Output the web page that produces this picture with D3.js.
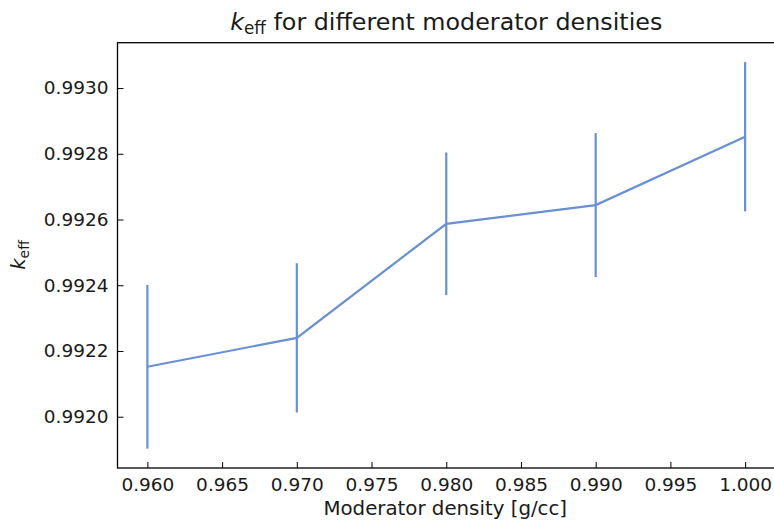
<!DOCTYPE html>
<html>
<head>
<meta charset="utf-8">
<script src="https://cdn.jsdelivr.net/npm/d3@7"></script>
<style>
  html, body { margin: 0; padding: 0; background: #fff; }
  svg { display: block; font-family: "DejaVu Sans", sans-serif; }
</style>
</head>
<body>
<svg id="chart" width="774" height="521"></svg>
<script>
// Moderator densities [g/cc]
const densities = [0.960, 0.970, 0.980, 0.990, 1.000];
// k_eff mean values and one-sigma uncertainties
const keff = [0.992152, 0.992240, 0.992587, 0.992644, 0.992852];
const keffErr = [0.000249, 0.000227, 0.000217, 0.000219, 0.000227];
// Axis ticks
const xTicks = [0.960, 0.965, 0.970, 0.975, 0.980, 0.985, 0.990, 0.995, 1.000];
const yTicks = [0.9920, 0.9922, 0.9924, 0.9926, 0.9928, 0.9930];

const lineColor = "#6890d2";
const textColor = "#1a1a1a";

const svg = d3.select("#chart");
const plotLeft = 117.5, plotRight = 775, plotTop = 42.7, plotBottom = 468;

const x = d3.scaleLinear().domain([0.958, 1.002]).range([plotLeft, plotRight]);
const y = d3.scaleLinear().domain([0.991844, 0.993138]).range([plotBottom, plotTop]);

const data = densities.map((d, i) => ({ x: d, y: keff[i], e: keffErr[i] }));

const g = svg.append("g");

const xAxis = d3.axisBottom(x).tickValues(xTicks).tickFormat(d3.format(".3f"))
  .tickSizeInner(-6).tickSizeOuter(0).tickPadding(10);
const yAxis = d3.axisLeft(y).tickValues(yTicks).tickFormat(d3.format(".4f"))
  .tickSizeInner(-6).tickSizeOuter(0).tickPadding(9);

const gx = g.append("g").attr("transform", `translate(0,${plotBottom})`).call(xAxis);
const gy = g.append("g").attr("transform", `translate(${plotLeft},0)`).call(yAxis);

[gx, gy].forEach(ax => {
  ax.select(".domain").remove();
  ax.selectAll(".tick line").attr("stroke", "#000").attr("stroke-width", 1);
  ax.selectAll(".tick text").attr("fill", textColor)
    .style("font-size", "18.5px").style("font-family", "DejaVu Sans");
});

// Error bars
g.append("g").selectAll("line").data(data).join("line")
  .attr("x1", d => x(d.x)).attr("x2", d => x(d.x))
  .attr("y1", d => y(d.y - d.e)).attr("y2", d => y(d.y + d.e))
  .attr("stroke", lineColor).attr("stroke-width", 2.2);

// Mean line
g.append("path").datum(data)
  .attr("fill", "none").attr("stroke", lineColor).attr("stroke-width", 2.2)
  .attr("d", d3.line().x(d => x(d.x)).y(d => y(d.y)));

// Spines
g.append("rect")
  .attr("x", plotLeft).attr("y", plotTop)
  .attr("width", plotRight - plotLeft).attr("height", plotBottom - plotTop)
  .attr("fill", "none").attr("stroke", "#000").attr("stroke-width", 1.3);

// Title
const title = svg.append("text")
  .attr("x", (plotLeft + plotRight) / 2).attr("y", 30)
  .attr("text-anchor", "middle").attr("fill", textColor)
  .style("font-size", "23.8px");
title.append("tspan").style("font-style", "italic").text("k");
title.append("tspan").attr("dy", 4).style("font-size", "16.8px").text("eff");
title.append("tspan").attr("dy", -4).text(" for different moderator densities");

// X label
svg.append("text")
  .attr("x", (plotLeft + plotRight) / 2 - 1).attr("y", 515)
  .attr("text-anchor", "middle").attr("fill", textColor)
  .style("font-size", "19.8px")
  .text("Moderator density [g/cc]");

// Y label
const yl = svg.append("text")
  .attr("transform", `translate(25,255) rotate(-90)`)
  .attr("text-anchor", "middle").attr("fill", textColor)
  .style("font-size", "19.8px");
yl.append("tspan").style("font-style", "italic").text("k");
yl.append("tspan").attr("dy", 4).style("font-size", "14px").text("eff");
</script>
</body>
</html>
